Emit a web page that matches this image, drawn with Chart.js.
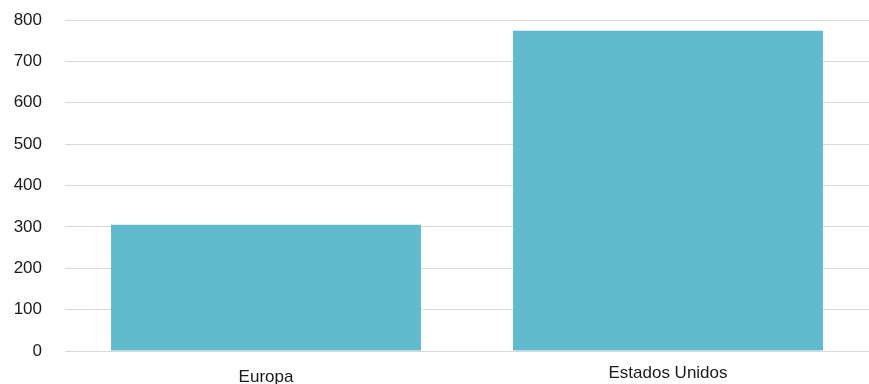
<!DOCTYPE html>
<html>
<head>
<meta charset="utf-8">
<script src="https://cdn.jsdelivr.net/npm/chart.js@4"></script>
<style>
  html, body { margin: 0; padding: 0; background: #fff; }
  #wrap { width: 869px; height: 384px; }
</style>
</head>
<body>
<div id="wrap"><canvas id="chart" width="869" height="384"></canvas></div>
<script>
 // Data
 const categories = ['Europa', 'Estados Unidos'];
 const values = [305, 774];
 const yTicks = [0, 100, 200, 300, 400, 500, 600, 700, 800];

 const fontFamily = '"Liberation Sans", Arial, sans-serif';
 const textColor = '#1a1a1a';

 // Category labels are drawn by hand so each can sit at its own height
 const categoryLabels = {
     id: 'categoryLabels',
     afterDraw(chart) {
         const ctx = chart.ctx;
         const x = chart.scales.x;
         const bottom = chart.chartArea.bottom;
         const drop = [31, 27];
         ctx.save();
         ctx.font = '17px ' + fontFamily;
         ctx.fillStyle = textColor;
         ctx.textAlign = 'center';
         ctx.textBaseline = 'alphabetic';
         categories.forEach((c, i) => {
             ctx.fillText(c, x.getPixelForValue(i), bottom + drop[i]);
         });
         ctx.restore();
     }
 };

 const ctx = document.getElementById('chart').getContext('2d');
 new Chart(ctx, {
     type: 'bar',
     data: {
         labels: categories,
         datasets: [{
             data: values,
             backgroundColor: '#62bacd',
             borderWidth: 0,
             barPercentage: 1,
             categoryPercentage: 0.771
         }]
     },
     options: {
         responsive: false,
         animation: false,
         layout: {
             padding: { top: 20, right: 0, bottom: 0, left: 0 }
         },
         plugins: {
             legend: { display: false },
             tooltip: { enabled: false }
         },
         scales: {
             x: {
                 grid: { display: false },
                 border: { display: false },
                 ticks: { display: false },
                 afterFit(scale) { scale.height = 33; }
             },
             y: {
                 min: 0,
                 max: 800,
                 afterBuildTicks(scale) {
                     scale.ticks = yTicks.map(v => ({ value: v }));
                 },
                 grid: {
                     color: '#d9d9d9',
                     lineWidth: 1,
                     drawTicks: true,
                     tickLength: 20,
                     tickColor: 'rgba(0,0,0,0)'
                 },
                 border: { display: false },
                 ticks: {
                     padding: 3,
                     color: textColor,
                     font: { family: fontFamily, size: 17 }
                 },
                 afterFit(scale) { scale.width = 65; }
             }
         }
     },
     plugins: [categoryLabels]
 });
</script>
</body>
</html>
